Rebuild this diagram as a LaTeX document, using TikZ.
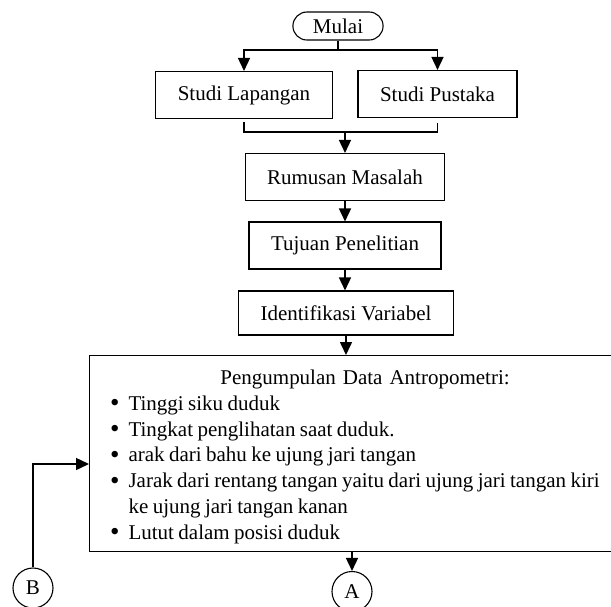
\documentclass[tikz,border=0pt]{standalone}
\usepackage{fontspec}
\setmainfont{Liberation Serif}
\usetikzlibrary{arrows.meta}

\tikzset{
  kotak/.style = {draw, line width=1.1pt, inner xsep=22pt, minimum height=47pt,
                  font=\fontsize{21}{25.8}\selectfont},
  terminal/.style = {kotak, rounded corners=14pt, minimum height=28pt, inner xsep=20pt},
  konektor/.style = {draw, circle, line width=1.1pt, minimum size=40pt, inner sep=0pt,
                     font=\fontsize{21}{25.8}\selectfont},
  garis/.style = {line width=1.5pt},
  panah/.style = {garis, -{Triangle[length=13pt,width=12pt]}}
}

\newcommand{\titikbutir}{\raisebox{-1.5pt}{\fontsize{27}{27}\selectfont\textbullet}}
\newcommand{\daftarbutir}{%
  \list{\titikbutir}{\setlength{\leftmargin}{23pt}\setlength{\labelsep}{9pt}%
    \setlength{\labelwidth}{12pt}\setlength{\itemsep}{0pt}\setlength{\parsep}{0pt}%
    \setlength{\topsep}{0pt}\setlength{\partopsep}{0pt}\setlength{\listparindent}{0pt}}}
\let\enddaftarbutir\endlist

\begin{document}
\begin{tikzpicture}[x=1pt, y=-1pt]
  \clip (0,0) rectangle (611,606);

  % alur atas
  \node[terminal] (mulai) at (338,26) {Mulai};
  \node[kotak] (lapangan) at (244,95) {Studi Lapangan};
  \node[kotak] (pustaka) at (437.5,94) {Studi Pustaka};
  \node[kotak] (rumusan) at (345,177) {Rumusan Masalah};
  \node[kotak] (tujuan) at (345,245.5) {Tujuan Penelitian};
  \node[kotak, minimum height=44pt] (identifikasi) at (346,313) {Identifikasi Variabel};

  % data antropometri
  \node[kotak, anchor=north west, inner xsep=16pt, inner ysep=7pt,
        text width=519pt, text height=22pt, text depth=160pt] (data) at (89,355) {%
    {\centering Pengumpulan Data Antropometri:\par}
    \begin{daftarbutir}\raggedright\spaceskip=4.4pt plus 0.5pt minus 0.5pt
      \item Tinggi siku duduk
      \item Tingkat penglihatan saat duduk.
      \item arak dari bahu ke ujung jari tangan
      \item Jarak dari rentang tangan yaitu dari ujung jari tangan kiri\par
            ke ujung jari tangan kanan
      \item Lutut dalam posisi duduk
    \end{daftarbutir}};

  \node[konektor] (A) at (352,591.5) {A};
  \node[konektor] (B) at (33,588) {B};

  \coordinate (cabang) at (338,50);
  \coordinate (gabung) at (345,132);
  \coordinate (masukB) at (89,464);

  \draw[garis] (mulai.south) -- (cabang);
  \draw[panah] (cabang) -| (lapangan.north);
  \draw[panah] (cabang) -| (pustaka.north);
  \draw[garis, shorten <=3pt] (lapangan.south) |- (gabung);
  \draw[garis, shorten <=5pt] (pustaka.south) |- (gabung);
  \draw[panah] (gabung) -- (rumusan.north);
  \draw[panah] (rumusan) -- (tujuan);
  \draw[panah] (tujuan.south) -- (tujuan.south |- identifikasi.north);
  \draw[panah] (identifikasi.south) -- (identifikasi.south |- data.north);
  \draw[panah] (A.north |- data.south) -- (A.north);
  \draw[panah] (B.north) |- (masukB);
\end{tikzpicture}
\end{document}
